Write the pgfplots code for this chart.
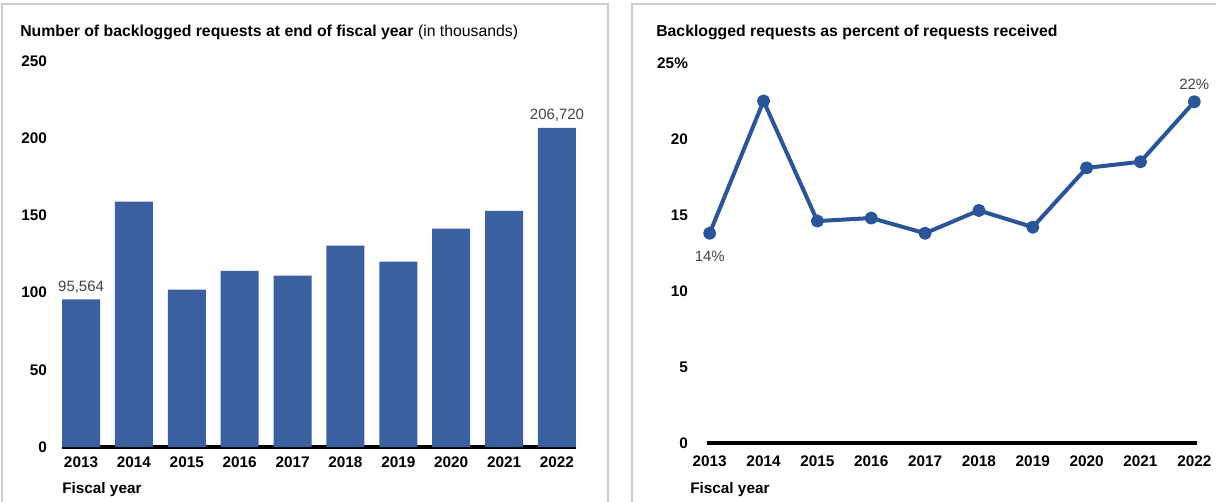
\documentclass[border=0pt]{standalone}
\usepackage{pgfplots}
\pgfplotsset{compat=1.18}
\usepackage{fontspec}
\setmainfont{Liberation Sans}
\definecolor{barblue}{RGB}{58,96,160}
\definecolor{lineblue}{RGB}{42,85,152}
\definecolor{lblgray}{RGB}{68,68,68}
\definecolor{framegray}{RGB}{204,204,204}
\newcommand{\tickfont}{\fontsize{11.5}{13}\selectfont\bfseries}
\newcommand{\titlefont}{\fontsize{11.85}{14}\selectfont}
\newcommand{\lblfont}{\fontsize{11.2}{13}\selectfont}
\begin{document}
\begin{tikzpicture}[x=0.75pt,y=0.75pt]
\path[use as bounding box] (0,0) rectangle (1216,501);
\fill[white] (0,0) rectangle (1216,501);
\draw[framegray, line width=1.1pt] (2,-10) rectangle (608,497);
\draw[framegray, line width=1.1pt] (632,-10) rectangle (1230,497);
\node[anchor=west, inner sep=0pt, font=\titlefont] at (20,469) {\textbf{Number of backlogged requests at end of fiscal year} (in thousands)};
\node[anchor=west, inner sep=0pt, font=\titlefont] at (656,469) {\textbf{Backlogged requests as percent of requests received}};
\node[anchor=west, inner sep=0pt, font=\tickfont] at (62,11) {Fiscal year};
\node[anchor=west, inner sep=0pt, font=\tickfont] at (690,11) {Fiscal year};

\begin{axis}[at={(46.5pt,40.5pt)}, anchor=south west, scale only axis,
  width=385.5pt, height=289.5pt,
  xmin=-0.36, xmax=9.36, ymin=0, ymax=250, clip=false,
  axis x line*=bottom, axis y line*=left,
  x axis line style={line width=2.6pt, black, -},
  y axis line style={draw=none},
  major tick length=0pt, tick style={draw=none},
  xtick={0,...,9}, xticklabels={2013,2014,2015,2016,2017,2018,2019,2020,2021,2022},
  ytick={0,50,100,150,200,250}, yticklabels={0,50,100,150,200,250},
  xticklabel style={font=\tickfont, yshift=-4pt},
  yticklabel style={font=\tickfont, anchor=east, xshift=-7.8pt},
]
\addplot[ybar, bar width=28.5pt, fill=barblue, draw=none] coordinates {
(0,95.564) (1,158.9) (2,102) (3,114) (4,111) (5,130.5) (6,120) (7,141.5) (8,153) (9,206.72)};
\node[font=\lblfont, text=lblgray, anchor=south, yshift=1pt] at (axis cs:0,95.564) {95,564};
\node[font=\lblfont, text=lblgray, anchor=south, yshift=1pt] at (axis cs:9,206.72) {206,720};
\end{axis}

\begin{axis}[at={(530.25pt,43.5pt)}, anchor=south west, scale only axis,
  width=367.5pt, height=285pt,
  xmin=-0.05, xmax=9.05, ymin=0, ymax=25, clip=false,
  axis x line*=bottom, axis y line*=left,
  x axis line style={line width=2.6pt, black, -},
  y axis line style={draw=none},
  major tick length=0pt, tick style={draw=none},
  xtick={0,...,9}, xticklabels={2013,2014,2015,2016,2017,2018,2019,2020,2021,2022},
  ytick={0,5,10,15,20,25}, yticklabels={0,5,10,15,20,25\%},
  xticklabel style={font=\tickfont, yshift=-6pt},
  yticklabel style={font=\tickfont, anchor=east, xshift=-10.8pt},
]
\addplot[lineblue, line width=3pt, line join=round, mark=*, mark size=3.4pt,
  mark options={fill=lineblue, draw=none}] coordinates {
(0,13.8) (1,22.5) (2,14.6) (3,14.8) (4,13.8) (5,15.3) (6,14.2) (7,18.1) (8,18.5) (9,22.45)};
\node[font=\lblfont, text=lblgray, anchor=north, yshift=-10pt] at (axis cs:0,13.8) {14\%};
\node[font=\lblfont, text=lblgray, anchor=south, yshift=5.5pt] at (axis cs:9,22.45) {22\%};
\end{axis}
\end{tikzpicture}
\end{document}
